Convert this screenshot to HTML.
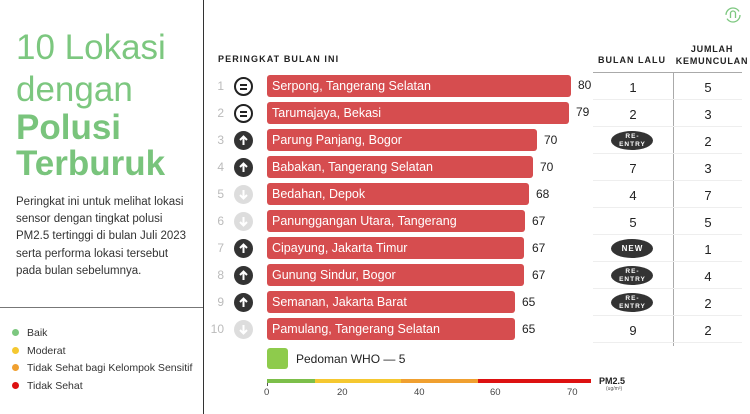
<!DOCTYPE html>
<html><head><meta charset="utf-8"><style>
*{margin:0;padding:0;box-sizing:border-box}
body{width:750px;height:414px;background:#fff;position:relative;overflow:hidden;font-family:"Liberation Sans",sans-serif;color:#222}
.a{position:absolute;white-space:nowrap}
.t{font-size:35px;color:#7cc77f;left:16px;line-height:40px}
.bar{position:absolute;left:267px;height:22px;background:#d64d4f;border-radius:3px;color:#fff;font-size:12.5px;line-height:22px;padding-left:5px}
.val{position:absolute;font-size:12px;color:#222}
.rk{position:absolute;left:210px;width:14px;text-align:right;font-size:12px;color:#bbb}
.ic{position:absolute;left:234px;width:19px;height:19px;border-radius:50%}
.eq{border:2px solid #222;background:#fff}
.eq:before,.eq:after{content:"";position:absolute;left:4px;width:7px;height:2px;background:#222}
.eq:before{top:5px}.eq:after{top:9px}
.up{background:#333}.dn{background:#ddd}
.ic svg{position:absolute;left:0;top:0}
.c1,.c2{position:absolute;font-size:13px;text-align:center}
.c1{left:593px;width:80px}.c2{left:673px;width:70px}
.pill{position:absolute;left:611px;width:42px;height:19px;border-radius:50%;background:#333;color:#fff;font-size:6.5px;font-weight:bold;letter-spacing:1px;text-align:center;line-height:7.5px;padding-top:2px;padding-left:1px}
.sep{position:absolute;left:593px;width:149px;height:1px;background:#eee}
.lg{position:absolute;left:12px;font-size:10.5px;color:#333}
.lg i{display:inline-block;width:7px;height:7px;border-radius:50%;margin-right:8px;vertical-align:0}
.hd{font-size:9px;font-weight:bold;letter-spacing:1.1px}
</style></head><body>
<div class="a" style="left:203px;top:0;width:1px;height:414px;background:#333"></div>
<div class="a" style="left:0;top:307px;width:203px;height:1px;background:#777"></div>
<div class="a t" style="top:28px">10 Lokasi</div>
<div class="a t" style="top:70px">dengan</div>
<div class="a t" style="top:108px;font-weight:bold;color:#79c47c">Polusi</div>
<div class="a t" style="top:144px;font-weight:bold;color:#79c47c">Terburuk</div>
<div class="a" style="left:16px;top:194px;font-size:11.5px;line-height:17.2px;color:#333;white-space:normal;width:180px">Peringkat ini untuk melihat lokasi sensor dengan tingkat polusi PM2.5 tertinggi di bulan Juli 2023 serta performa lokasi tersebut pada bulan sebelumnya.</div>
<div class="lg" style="top:327px"><i style="background:#7cc77f"></i>Baik</div>
<div class="lg" style="top:345px"><i style="background:#f5c830"></i>Moderat</div>
<div class="lg" style="top:362px"><i style="background:#f0a030"></i>Tidak Sehat bagi Kelompok Sensitif</div>
<div class="lg" style="top:380px"><i style="background:#d11"></i>Tidak Sehat</div>

<svg class="a" style="left:724px;top:6px" width="18" height="18" viewBox="0 0 18 18"><circle cx="9" cy="9" r="7" fill="none" stroke="#7cc77f" stroke-width="1.3" stroke-dasharray="18 4"/><path d="M6.5 12V7.5a2.5 2.5 0 0 1 5 0V12" fill="none" stroke="#7cc77f" stroke-width="1.3"/></svg>

<div class="a hd" style="left:218px;top:54px">PERINGKAT BULAN INI</div>
<div class="a hd" style="left:598px;top:55px;letter-spacing:1px">BULAN LALU</div>
<div class="a hd" style="left:674px;top:43px;width:76px;text-align:center;line-height:12px;letter-spacing:0.8px">JUMLAH<br>KEMUNCULAN</div>
<div class="a" style="left:593px;top:72px;width:149px;height:1px;background:#aaa"></div>
<div class="a" style="left:673px;top:72px;width:1px;height:274px;background:#aaa"></div>

<div class="sep" style="top:99px"></div><div class="sep" style="top:126px"></div><div class="sep" style="top:153px"></div><div class="sep" style="top:180px"></div><div class="sep" style="top:207px"></div><div class="sep" style="top:234px"></div><div class="sep" style="top:261px"></div><div class="sep" style="top:288px"></div><div class="sep" style="top:315px"></div><div class="sep" style="top:342px"></div>

<div class="rk" style="top:79px">1</div><div class="ic eq" style="top:77px"></div><div class="bar" style="top:75px;width:304px">Serpong, Tangerang Selatan</div><div class="val" style="left:578px;top:78px">80</div><div class="c1" style="top:80px">1</div><div class="c2" style="top:80px">5</div>
<div class="rk" style="top:106px">2</div><div class="ic eq" style="top:104px"></div><div class="bar" style="top:102px;width:302px">Tarumajaya, Bekasi</div><div class="val" style="left:576px;top:105px">79</div><div class="c1" style="top:107px">2</div><div class="c2" style="top:107px">3</div>
<div class="rk" style="top:133px">3</div><div class="ic up" style="top:131px"><svg width="19" height="19"><path d="M9.5 14V6M6 9l3.5-3.5L13 9" stroke="#fff" stroke-width="2" fill="none"/></svg></div><div class="bar" style="top:129px;width:270px">Parung Panjang, Bogor</div><div class="val" style="left:544px;top:133px">70</div><div class="pill" style="top:131px">RE-<br>ENTRY</div><div class="c2" style="top:134px">2</div>
<div class="rk" style="top:160px">4</div><div class="ic up" style="top:158px"><svg width="19" height="19"><path d="M9.5 14V6M6 9l3.5-3.5L13 9" stroke="#fff" stroke-width="2" fill="none"/></svg></div><div class="bar" style="top:156px;width:266px">Babakan, Tangerang Selatan</div><div class="val" style="left:540px;top:160px">70</div><div class="c1" style="top:161px">7</div><div class="c2" style="top:161px">3</div>
<div class="rk" style="top:187px">5</div><div class="ic dn" style="top:185px"><svg width="19" height="19"><path d="M9.5 5v8M6 10l3.5 3.5L13 10" stroke="#fff" stroke-width="2" fill="none"/></svg></div><div class="bar" style="top:183px;width:262px">Bedahan, Depok</div><div class="val" style="left:536px;top:187px">68</div><div class="c1" style="top:188px">4</div><div class="c2" style="top:188px">7</div>
<div class="rk" style="top:214px">6</div><div class="ic dn" style="top:212px"><svg width="19" height="19"><path d="M9.5 5v8M6 10l3.5 3.5L13 10" stroke="#fff" stroke-width="2" fill="none"/></svg></div><div class="bar" style="top:210px;width:258px">Panunggangan Utara, Tangerang</div><div class="val" style="left:532px;top:214px">67</div><div class="c1" style="top:215px">5</div><div class="c2" style="top:215px">5</div>
<div class="rk" style="top:241px">7</div><div class="ic up" style="top:239px"><svg width="19" height="19"><path d="M9.5 14V6M6 9l3.5-3.5L13 9" stroke="#fff" stroke-width="2" fill="none"/></svg></div><div class="bar" style="top:237px;width:257px">Cipayung, Jakarta Timur</div><div class="val" style="left:532px;top:241px">67</div><div class="pill" style="top:239px;line-height:19px;padding-top:0;font-size:8px">NEW</div><div class="c2" style="top:242px">1</div>
<div class="rk" style="top:268px">8</div><div class="ic up" style="top:266px"><svg width="19" height="19"><path d="M9.5 14V6M6 9l3.5-3.5L13 9" stroke="#fff" stroke-width="2" fill="none"/></svg></div><div class="bar" style="top:264px;width:257px">Gunung Sindur, Bogor</div><div class="val" style="left:532px;top:268px">67</div><div class="pill" style="top:266px">RE-<br>ENTRY</div><div class="c2" style="top:269px">4</div>
<div class="rk" style="top:295px">9</div><div class="ic up" style="top:293px"><svg width="19" height="19"><path d="M9.5 14V6M6 9l3.5-3.5L13 9" stroke="#fff" stroke-width="2" fill="none"/></svg></div><div class="bar" style="top:291px;width:248px">Semanan, Jakarta Barat</div><div class="val" style="left:522px;top:295px">65</div><div class="pill" style="top:293px">RE-<br>ENTRY</div><div class="c2" style="top:296px">2</div>
<div class="rk" style="top:322px">10</div><div class="ic dn" style="top:320px"><svg width="19" height="19"><path d="M9.5 5v8M6 10l3.5 3.5L13 10" stroke="#fff" stroke-width="2" fill="none"/></svg></div><div class="bar" style="top:318px;width:248px">Pamulang, Tangerang Selatan</div><div class="val" style="left:522px;top:322px">65</div><div class="c1" style="top:323px">9</div><div class="c2" style="top:323px">2</div>

<div class="a" style="left:267px;top:348px;width:21px;height:21px;background:#8ecb4c;border-radius:3px"></div>
<div class="a" style="left:296px;top:352px;font-size:12px">Pedoman WHO — 5</div>

<div class="a" style="left:267px;top:379px;width:48px;height:4px;background:#7cbf4a"></div>
<div class="a" style="left:315px;top:379px;width:86px;height:4px;background:#f5c830"></div>
<div class="a" style="left:401px;top:379px;width:77px;height:4px;background:#f0a030"></div>
<div class="a" style="left:478px;top:379px;width:113px;height:4px;background:#d11"></div>
<div class="a" style="left:267px;top:383px;width:1px;height:3px;background:#555"></div>
<div class="a" style="left:264px;top:387px;font-size:9.5px;color:#444">0</div>
<div class="a" style="left:337px;top:387px;font-size:9.5px;color:#444">20</div>
<div class="a" style="left:414px;top:387px;font-size:9.5px;color:#444">40</div>
<div class="a" style="left:490px;top:387px;font-size:9.5px;color:#444">60</div>
<div class="a" style="left:567px;top:387px;font-size:9.5px;color:#444">70</div>
<div class="a" style="left:599px;top:376px;font-size:9px;font-weight:bold">PM2.5</div>
<div class="a" style="left:606px;top:386px;font-size:5px;color:#555">(ug/m³)</div>
</body></html>
